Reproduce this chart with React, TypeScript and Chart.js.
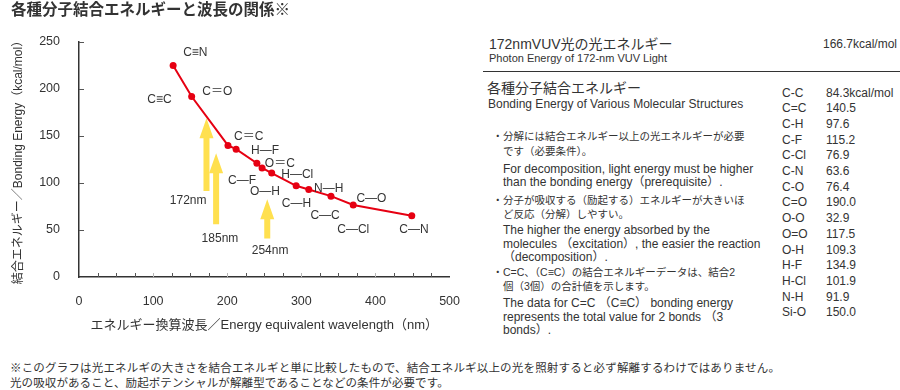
import React, { useEffect, useRef } from "react";
import { Chart, registerables } from "chart.js";

Chart.register(...registerables);

const FAMILY = "'Liberation Sans', 'Noto Sans CJK JP', sans-serif";
const TEXT = "#333333";

// Curve: energy-equivalent wavelength (nm) vs bonding energy (kcal/mol)
const wavelengths = [127, 152, 201, 212, 240, 247, 260, 293, 310, 340, 370, 449];
const energies = [225, 192, 140, 136, 121, 116, 110.6, 97, 93, 86, 76.6, 65.2];

// Bond labels placed in data space
const bondLabels = ["C≡N", "C≡C", "C＝O", "C＝C", "H—F", "O＝C", "H—Cl", "C—F", "O—H", "N—H", "C—H", "C—O", "C—C", "C—Cl", "C—N"];
const bondLabelX = [157, 108.5, 186.5, 229, 251, 271, 294.5, 220, 251, 337, 293.5, 394.5, 332, 370, 452];
const bondLabelY = [238.6, 189, 197, 149.3, 134.8, 121, 108.5, 102, 90.7, 94.4, 78.4, 83.7, 65, 50, 50];

// Lamp wavelength arrows
const arrowWavelengths = [172, 185, 254];
const arrowTop = [168.8, 131.6, 82.7];
const arrowBottom = [91.5, 56, 41];
const arrowLabels = ["172nm", "185nm", "254nm"];
const arrowLabelX = [147.3, 190.2, 257.8];
const arrowLabelY = [81.2, 41.1, 27.9];

// Right-hand table
const tableBonds = ["C-C", "C=C", "C-H", "C-F", "C-Cl", "C-N", "C-O", "C=O", "O-O", "O=O", "O-H", "H-F", "H-Cl", "N-H", "Si-O"];
const tableValues = ["84.3kcal/mol", "140.5", "97.6", "115.2", "76.9", "63.6", "76.4", "190.0", "32.9", "117.5", "109.3", "134.9", "101.9", "91.9", "150.0"];

const notes: { text: string; y: number; jp: boolean; bullet?: boolean }[] = [
  { text: "分解には結合エネルギー以上の光エネルギーが必要", y: 136.7, jp: true, bullet: true },
  { text: "です（必要条件）。", y: 151.7, jp: true },
  { text: "For decomposition, light energy must be higher", y: 169.3, jp: false },
  { text: "than the bonding energy（prerequisite）.", y: 182.7, jp: false },
  { text: "分子が吸収する（励起する）エネルギーが大きいほ", y: 200, jp: true, bullet: true },
  { text: "ど反応（分解）しやすい。", y: 214, jp: true },
  { text: "The higher the energy absorbed by the", y: 230, jp: false },
  { text: "molecules （excitation）, the easier the reaction", y: 244, jp: false },
  { text: "（decomposition）.", y: 257.3, jp: false },
  { text: "C=C、（C≡C）の結合エネルギーデータは、結合2", y: 272.7, jp: true, bullet: true },
  { text: "個（3個）の合計値を示します。", y: 286.7, jp: true },
  { text: "The data for C=C （C≡C） bonding energy", y: 303.3, jp: false },
  { text: "represents the total value for 2 bonds （3", y: 317.3, jp: false },
  { text: "bonds）.", y: 330.7, jp: false },
];

const footnotes = [
  "※このグラフは光エネルギの大きさを結合エネルギと単に比較したもので、結合エネルギ以上の光を照射すると必ず解離するわけではありません。",
  "光の吸収があること、励起ポテンシャルが解離型であることなどの条件が必要です。",
];

const overlayPlugin = {
  id: "overlay",
  beforeDatasetsDraw(chart: any) {
    const { ctx, scales } = chart;
    const x = scales.x;
    const y = scales.y;
    ctx.save();
    ctx.fillStyle = "#ffe04f";
    arrowWavelengths.forEach((w, i) => {
      const cx = x.getPixelForValue(w);
      const ty = y.getPixelForValue(arrowTop[i]);
      const by = y.getPixelForValue(arrowBottom[i]);
      const hw = 7;
      const hh = 20;
      const sw = 3;
      ctx.beginPath();
      ctx.moveTo(cx, ty);
      ctx.lineTo(cx + hw, ty + hh);
      ctx.lineTo(cx + sw, ty + hh);
      ctx.lineTo(cx + sw, by);
      ctx.lineTo(cx - sw, by);
      ctx.lineTo(cx - sw, ty + hh);
      ctx.lineTo(cx - hw, ty + hh);
      ctx.closePath();
      ctx.fill();
    });
    ctx.restore();
  },
  afterDraw(chart: any) {
    const { ctx, scales, chartArea } = chart;
    const x = scales.x;
    const y = scales.y;
    ctx.save();
    // inward ticks
    ctx.lineWidth = 1;
    for (let v = 25; v < 500; v += 25) {
      const px = Math.round(x.getPixelForValue(v)) + 0.5;
      ctx.strokeStyle = v % 100 === 0 ? "#b8b8b8" : "#555555";
      ctx.beginPath();
      ctx.moveTo(px, chartArea.bottom);
      ctx.lineTo(px, chartArea.bottom - 4);
      ctx.stroke();
    }
    for (let v = 50; v <= 250; v += 50) {
      const py = Math.round(y.getPixelForValue(v)) + 0.5;
      ctx.strokeStyle = "#555555";
      ctx.beginPath();
      ctx.moveTo(chartArea.left, py);
      ctx.lineTo(chartArea.left + 5, py);
      ctx.stroke();
    }
    // labels
    ctx.fillStyle = TEXT;
    ctx.font = `12px ${FAMILY}`;
    ctx.textAlign = "center";
    ctx.textBaseline = "middle";
    bondLabels.forEach((t, i) => {
      ctx.fillText(t, x.getPixelForValue(bondLabelX[i]), y.getPixelForValue(bondLabelY[i]));
    });
    arrowLabels.forEach((t, i) => {
      ctx.fillText(t, x.getPixelForValue(arrowLabelX[i]), y.getPixelForValue(arrowLabelY[i]));
    });
    ctx.restore();
  },
};

function T(props: { x?: number; right?: number; y: number; size: number; children: any; weight?: number; spacing?: number }) {
  const lh = Math.round(props.size * 1.4);
  const pos: any = props.right !== undefined ? { right: props.right } : { left: props.x };
  return (
    <div
      style={{
        position: "absolute",
        ...pos,
        top: props.y - lh / 2,
        fontSize: props.size,
        lineHeight: `${lh}px`,
        whiteSpace: "nowrap",
        fontWeight: props.weight ?? 400,
        letterSpacing: props.spacing ?? 0,
      }}
    >
      {props.children}
    </div>
  );
}

export default function App() {
  const ref = useRef<HTMLCanvasElement>(null);

  useEffect(() => {
    const chart = new Chart(ref.current as HTMLCanvasElement, {
      type: "line",
      data: {
        datasets: [
          {
            data: wavelengths.map((w, i) => ({ x: w, y: energies[i] })),
            borderColor: "#e60012",
            backgroundColor: "#e60012",
            borderWidth: 2,
            pointRadius: 3.5,
            pointHoverRadius: 3.5,
            pointBorderWidth: 0,
            tension: 0,
          },
        ],
      },
      options: {
        responsive: false,
        animation: false,
        devicePixelRatio: 1,
        layout: { padding: { left: 11, right: 0, top: 0, bottom: 0 } },
        plugins: {
          legend: { display: false },
          tooltip: { enabled: false },
          title: {
            display: true,
            text: "各種分子結合エネルギーと波長の関係※",
            align: "start",
            color: TEXT,
            font: { size: 15.5, weight: "bold", family: FAMILY },
            padding: { top: 1, bottom: 22.4 },
          },
        },
        scales: {
          x: {
            type: "linear",
            min: 0,
            max: 500,
            ticks: { stepSize: 100, color: TEXT, font: { size: 12.5, family: FAMILY }, padding: 9 },
            grid: { display: false },
            border: { display: true, color: "#333333", width: 1.5 },
            title: {
              display: true,
              text: "エネルギー換算波長／Energy equivalent wavelength（nm）",
              color: TEXT,
              font: { size: 13, family: FAMILY },
              padding: { top: 0, bottom: 7 },
            },
            afterFit: (s: any) => {
              s.height = 63;
            },
          },
          y: {
            type: "linear",
            min: 0,
            max: 250,
            ticks: { stepSize: 50, color: TEXT, font: { size: 12.5, family: FAMILY }, padding: 11 },
            grid: { display: false },
            border: { display: true, color: "#333333", width: 1.5 },
            title: {
              display: true,
              text: "結合エネルギー／Bonding Energy（kcal/mol）",
              color: TEXT,
              font: { size: 12, family: FAMILY },
              padding: { top: 0, bottom: 0 },
            },
            afterFit: (s: any) => {
              s.width = 68;
            },
          },
        },
      } as any,
      plugins: [overlayPlugin],
    });
    return () => chart.destroy();
  }, []);

  return (
    <div
      style={{
        position: "absolute",
        left: 0,
        top: 0,
        width: 900,
        height: 390,
        background: "#ffffff",
        fontFamily: FAMILY,
        color: TEXT,
        overflow: "hidden",
      }}
    >
      <canvas
        ref={ref}
        width={469}
        height={340}
        style={{ position: "absolute", left: 0, top: 0, width: 469, height: 340 }}
      />

      <T x={489} y={43.5} size={14}>172nmVUV光の光エネルギー</T>
      <T x={489} y={58.5} size={11}>Photon Energy of 172-nm VUV Light</T>
      <T right={3} y={44.5} size={12}>166.7kcal/mol</T>
      <div style={{ position: "absolute", left: 483, top: 71, width: 417, height: 1, background: "#333333" }} />
      <T x={487} y={88} size={14}>各種分子結合エネルギー</T>
      <T x={488} y={104} size={12}>Bonding Energy of Various Molecular Structures</T>

      {tableBonds.map((b, i) => (
        <T key={"b" + i} x={782} y={93 + 15.7 * i} size={12}>{b}</T>
      ))}
      {tableValues.map((v, i) => (
        <T key={"v" + i} x={826} y={93 + 15.7 * i} size={12}>{v}</T>
      ))}

      {notes.map((n, i) => (
        <React.Fragment key={"n" + i}>
          {n.bullet ? <T x={492.5} y={n.y} size={10.5}>・</T> : null}
          <T x={503} y={n.y} size={n.jp ? 10.5 : 12}>{n.text}</T>
        </React.Fragment>
      ))}

      <T x={10} y={367.5} size={11.5} spacing={0.18}>{footnotes[0]}</T>
      <T x={10} y={383} size={11.5} spacing={0.1}>{footnotes[1]}</T>
    </div>
  );
}
